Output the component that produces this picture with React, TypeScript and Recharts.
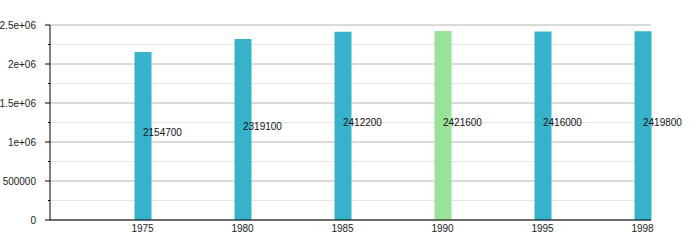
import { Bar, BarChart, CartesianGrid, Cell, LabelList, XAxis, YAxis } from "recharts";

const YEARS = ["1975", "1980", "1985", "1990", "1995", "1998"];
const POPULATION = [2154700, 2319100, 2412200, 2421600, 2416000, 2419800];
const HIGHLIGHT = "1990";
const MAJOR_TICKS = [0, 500000, 1000000, 1500000, 2000000, 2500000];
const MINOR_TICKS = [250000, 750000, 1250000, 1750000, 2250000];

const data = YEARS.map((year, i) => ({ year, value: POPULATION[i] }));
const allTicks = [...MAJOR_TICKS, ...MINOR_TICKS].sort((a, b) => a - b);

const font = { fontFamily: "'Liberation Sans', Arial, sans-serif", fontSize: 10, fill: "#222" };

function fmt(v: number) {
  if (v === 0) return "0";
  if (v >= 1000000) return `${v / 1000000}e+06`;
  return String(v);
}

// y tick: labels only on majors, short tick for minors
function YTick(props: any) {
  const { x, y, payload } = props;
  const major = MAJOR_TICKS.includes(payload.value);
  const axisX = x + 9 + 5;
  return (
    <g>
      <line x1={axisX - (major ? 5 : 2)} x2={axisX} y1={y} y2={y} stroke="#000" strokeWidth={1} />
      {major && (
        <text x={x} y={y} dy="0.35em" textAnchor="end" {...font}>
          {fmt(payload.value)}
        </text>
      )}
    </g>
  );
}

function ValueLabel(props: any) {
  const { x, y, width, height, value } = props;
  return (
    <text x={x + width / 2} y={y + height / 2} textAnchor="start" {...font} fill="#111">
      {value}
    </text>
  );
}

export default function App() {
  return (
    <div>
      <style>{"body{margin:0} svg{overflow:visible}"}</style>
      <BarChart width={700} height={250} data={data} margin={{ top: 25, right: 49, bottom: 0, left: 0 }}>
        <CartesianGrid vertical={false} horizontalValues={MINOR_TICKS} stroke="#e4e4e4" />
        <CartesianGrid vertical={false} horizontalValues={MAJOR_TICKS} stroke="#b4b4b4" />
        <XAxis
          dataKey="year"
          height={30}
          padding={{ left: 42.5, right: -41.5 }}
          tickLine={false}
          tickSize={0}
          tickMargin={5}
          axisLine={{ stroke: "#000" }}
          tick={font}
          interval={0}
        />
        <YAxis
          width={50}
          domain={[0, 2500000]}
          ticks={allTicks}
          interval={0}
          tickLine={false}
          tickSize={5}
          tickMargin={9}
          axisLine={{ stroke: "#000" }}
          tick={<YTick />}
        />
        <Bar dataKey="value" barSize={17} isAnimationActive={false}>
          {data.map((d) => (
            <Cell key={d.year} fill={d.year === HIGHLIGHT ? "#98e398" : "#36b3cb"} />
          ))}
          <LabelList dataKey="value" content={<ValueLabel />} />
        </Bar>
      </BarChart>
    </div>
  );
}
